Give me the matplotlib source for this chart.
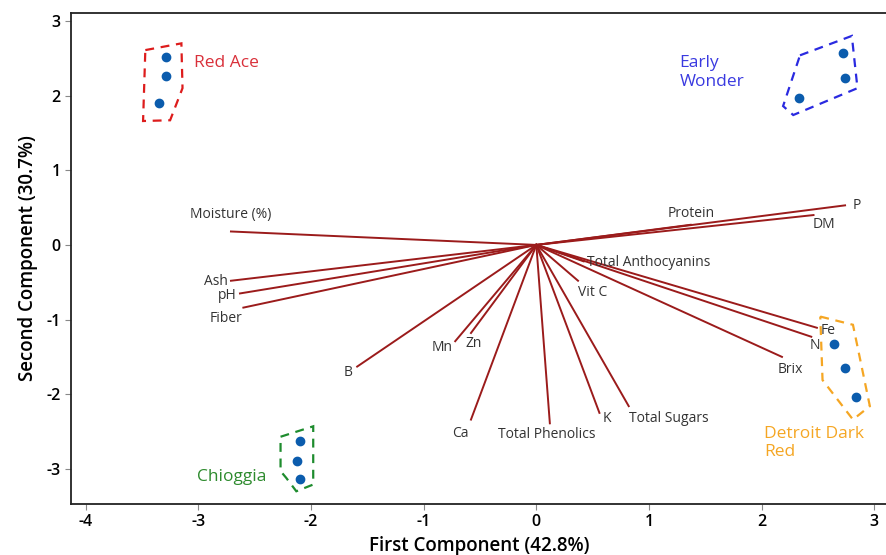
import matplotlib.pyplot as plt
from matplotlib.patches import Polygon

plt.rcParams['font.family'] = ['Open Sans', 'DejaVu Sans']
plt.rcParams['axes.unicode_minus'] = False

# scores of the samples
red_ace_x = [-3.29, -3.29, -3.35]
red_ace_y = [2.52, 2.26, 1.90]
early_wonder_x = [2.72, 2.74, 2.33]
early_wonder_y = [2.57, 2.24, 1.97]
chioggia_x = [-2.10, -2.12, -2.10]
chioggia_y = [-2.63, -2.89, -3.14]
detroit_x = [2.64, 2.74, 2.84]
detroit_y = [-1.33, -1.65, -2.04]

# loadings (scaled)
variables = ["Moisture (%)", "Ash", "pH", "Fiber", "B", "Mn", "Zn", "Ca",
             "Total Phenolics", "K", "Total Sugars", "Vit C", "Total Anthocyanins",
             "Protein", "P", "DM", "Fe", "N", "Brix"]
load_x = [-2.71, -2.71, -2.63, -2.60, -1.59, -0.72, -0.58, -0.58,
          0.12, 0.56, 0.82, 0.37, 0.42, 1.37, 2.74, 2.46, 2.49, 2.44, 2.18]
load_y = [0.18, -0.48, -0.65, -0.84, -1.63, -1.29, -1.18, -2.34,
          -2.39, -2.25, -2.16, -0.48, -0.22, 0.27, 0.53, 0.40, -1.11, -1.23, -1.50]

# hand drawn group outlines
red_ace_hull = [(-3.47, 2.61), (-3.15, 2.70), (-3.14, 2.10), (-3.25, 1.67), (-3.49, 1.66)]
early_wonder_hull = [(2.34, 2.54), (2.80, 2.80), (2.85, 2.10), (2.28, 1.74), (2.19, 1.86)]
chioggia_hull = [(-2.27, -2.57), (-1.98, -2.43), (-1.98, -3.21), (-2.13, -3.30),
                 (-2.22, -3.12), (-2.27, -3.03)]
detroit_hull = [(2.52, -0.96), (2.81, -1.07), (2.96, -2.16), (2.81, -2.34), (2.54, -1.81)]

# label placement: (dx, dy, ha, va)
label_pos = {
    "Moisture (%)": (0.0, 0.23, 'center', 'center'),
    "Ash": (-0.03, -0.01, 'right', 'center'),
    "pH": (-0.03, -0.03, 'right', 'center'),
    "Fiber": (-0.15, -0.15, 'center', 'center'),
    "B": (-0.08, -0.08, 'center', 'center'),
    "Mn": (-0.12, -0.08, 'center', 'center'),
    "Zn": (0.02, -0.14, 'center', 'center'),
    "Ca": (-0.09, -0.19, 'center', 'center'),
    "Total Phenolics": (-0.03, -0.15, 'center', 'center'),
    "K": (0.07, -0.07, 'center', 'center'),
    "Total Sugars": (0.36, -0.16, 'center', 'center'),
    "Vit C": (0.13, -0.16, 'center', 'center'),
    "Total Anthocyanins": (0.03, -0.02, 'left', 'center'),
    "Protein": (0.0, 0.15, 'center', 'center'),
    "P": (0.07, 0.0, 'left', 'center'),
    "DM": (0.09, -0.13, 'center', 'center'),
    "Fe": (0.1, -0.04, 'center', 'center'),
    "N": (0.03, -0.12, 'center', 'center'),
    "Brix": (0.07, -0.17, 'center', 'center'),
}

fig = plt.figure(figsize=(8.87, 5.55), dpi=100)
ax = fig.add_axes([0.080, 0.092, 0.921, 0.885])

line_col = '#9b1b1b'
for name, lx, ly in zip(variables, load_x, load_y):
    ax.plot([0, lx], [0, ly], color=line_col, lw=1.4, zorder=2)
    dx, dy, ha, va = label_pos[name]
    ax.text(lx + dx, ly + dy, name, fontsize=10, color='#333333', ha=ha, va=va)

pt_col = '#0b5cad'
for xs, ys in [(red_ace_x, red_ace_y), (early_wonder_x, early_wonder_y),
               (chioggia_x, chioggia_y), (detroit_x, detroit_y)]:
    ax.plot(xs, ys, 'o', color=pt_col, ms=6, zorder=3)

for hull, col in [(red_ace_hull, '#dd1c1c'), (early_wonder_hull, '#2a2ae0'),
                  (chioggia_hull, '#1e8c2e'), (detroit_hull, '#f5a623')]:
    ax.add_patch(Polygon(hull, closed=True, fill=False, edgecolor=col,
                         lw=1.6, ls=(0, (4, 3)), zorder=2))

ax.text(-3.04, 2.44, "Red Ace", color='#d9303a', fontsize=12.5, ha='left', va='center')
ax.text(1.27, 2.31, "Early\nWonder", color='#3a3ae0', fontsize=12.5, ha='left', va='center',
        linespacing=1.3)
ax.text(-3.01, -3.11, "Chioggia", color='#2e8b2e', fontsize=12.5, ha='left', va='center')
ax.text(2.02, -2.65, "Detroit Dark\nRed", color='#f5a623', fontsize=12.5, ha='left', va='center',
        linespacing=1.2)

ax.set_xlim(-4.13, 3.12)
ax.set_ylim(-3.47, 3.11)
ax.set_xticks([-4, -3, -2, -1, 0, 1, 2, 3])
ax.set_yticks([-3, -2, -1, 0, 1, 2, 3])
ax.tick_params(labelsize=11.5, length=4, color='#888888')
for lab in ax.get_xticklabels() + ax.get_yticklabels():
    lab.set_fontweight('semibold')
ax.spines['right'].set_visible(False)
for s in ['left', 'bottom', 'top']:
    ax.spines[s].set_linewidth(1.3)
    ax.spines[s].set_color('#222222')

ax.set_xlabel("First Component (42.8%)", fontsize=13.5, fontweight='semibold', labelpad=4)
ax.set_ylabel("Second Component (30.7%)", fontsize=13.5, fontweight='semibold', labelpad=6)

fig.savefig("out.png", dpi=100)
